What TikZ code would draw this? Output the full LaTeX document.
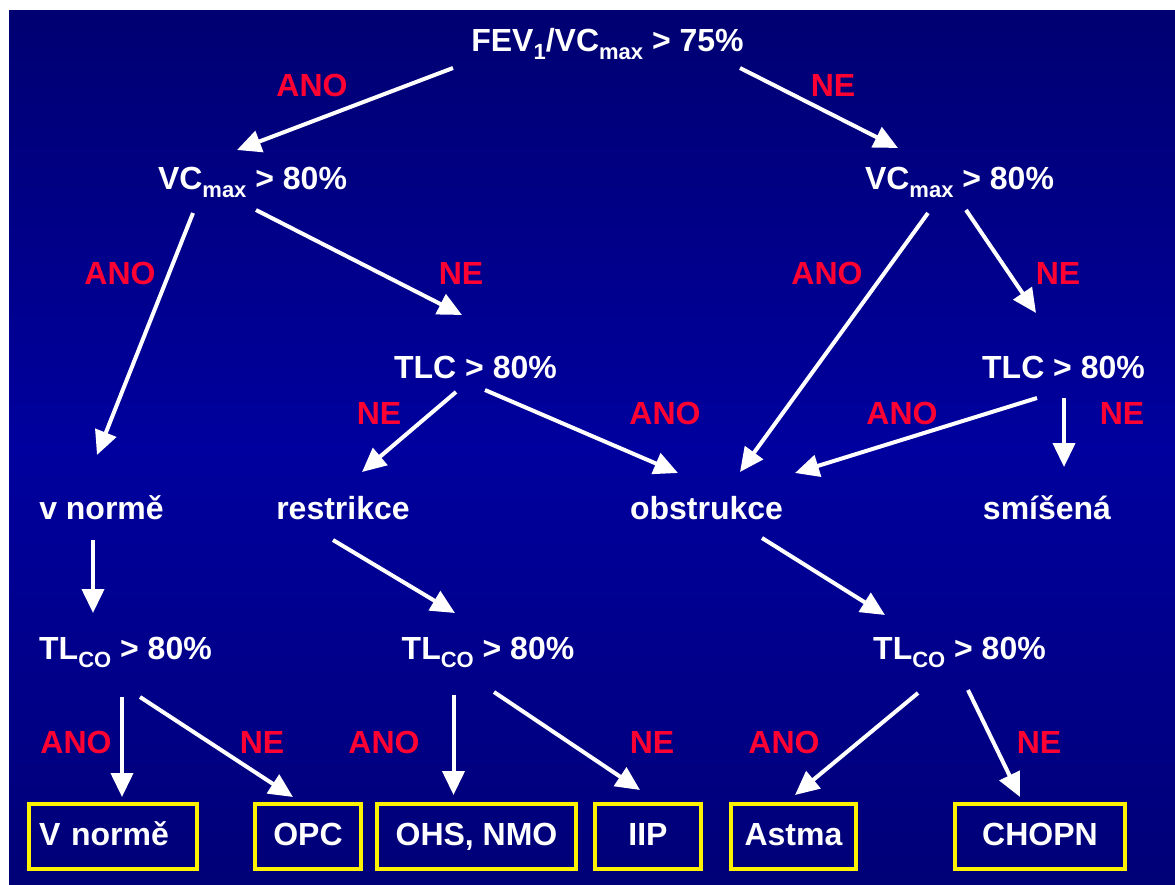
\documentclass[tikz,border=0pt]{standalone}
\usepackage{fontspec}
\setmainfont{Liberation Sans}
\usetikzlibrary{arrows.meta}

\definecolor{bgtop}{RGB}{0,0,68}
\definecolor{bgmid}{RGB}{0,0,158}
\definecolor{bgbot}{RGB}{0,0,78}
\definecolor{ansred}{RGB}{255,0,51}

\pgfdeclareverticalshading{bgshade}{100bp}{color(0bp)=(bgbot); color(12bp)=(bgbot!75!bgmid);
  color(50bp)=(bgmid); color(88bp)=(bgtop!75!bgmid); color(100bp)=(bgtop)}

\newcommand{\lowsub}[1]{\raisebox{-8pt}{\fontsize{22}{22}\selectfont #1}}
\newcommand{\bigfont}{\bfseries\fontsize{32}{36}\selectfont}

\tikzset{
  txt/.style={text=white, font=\bigfont, anchor=base, inner sep=0pt},
  lbl/.style={text=ansred, font=\bigfont, anchor=base, inner sep=0pt},
  arr/.style={draw=white, line width=4pt, -{Triangle[length=24pt,width=22pt]}},
  res/.style={draw=yellow, line width=4pt, minimum height=65pt, text=white,
    font=\bigfont, text height=23pt, text depth=6pt, inner sep=0pt},
}

\begin{document}
\begin{tikzpicture}[x=1pt, y=-1pt]
        \useasboundingbox (0,0) rectangle (1175,885);
        \fill[white] (0,0) rectangle (1175,885);
        \shade[shading=bgshade] (9,11) rectangle (1175,885);

        % place nodes
        \node[txt] at (607.5,52)  (root)  {FEV\lowsub{1}/VC\lowsub{max} > 75\%};
        \node[txt] at (252.5,190) (vcl)   {VC\lowsub{max} > 80\%};
        \node[txt] at (959.5,190) (vcr)   {VC\lowsub{max} > 80\%};
        \node[txt] at (475.5,378) (tlcm)  {TLC > 80\%};
        \node[txt] at (1063.5,378) (tlcr) {TLC > 80\%};

        \node[txt] at (101.5,519) (norm)  {v normě};
        \node[txt] at (343,519)   (restr) {restrikce};
        \node[txt] at (706.5,519) (obstr) {obstrukce};
        \node[txt] at (1047,519)  (smis)  {smíšená};

        \node[txt] at (125.5,659) (tlcol) {TL\lowsub{CO} > 80\%};
        \node[txt] at (488,659)   (tlcom) {TL\lowsub{CO} > 80\%};
        \node[txt] at (959.5,659) (tlcor) {TL\lowsub{CO} > 80\%};

        \node[res, minimum width=168pt, text width=148pt, align=left] at (113,836.5) (bnorm) {V normě};
        \node[res, minimum width=106pt] at (308,836.5)    (bopc)   {OPC};
        \node[res, minimum width=199pt] at (476.5,836.5)  (bohs)   {OHS, NMO};
        \node[res, minimum width=106pt] at (648,836.5)    (biip)   {IIP};
        \node[res, minimum width=125pt] at (793.5,836.5)  (bast)   {Astma};
        \node[res, minimum width=170pt] at (1040,836.5)   (bchopn) {CHOPN};

        % answers
        \node[lbl] at (312,97)   (l1)  {ANO};
        \node[lbl] at (833,97)   (l2)  {NE};
        \node[lbl] at (120,285)  (l3)  {ANO};
        \node[lbl] at (461,285)  (l4)  {NE};
        \node[lbl] at (827,285)  (l5)  {ANO};
        \node[lbl] at (1058,285) (l6)  {NE};
        \node[lbl] at (379,424)  (l7)  {NE};
        \node[lbl] at (665,424)  (l8)  {ANO};
        \node[lbl] at (902,424)  (l9)  {ANO};
        \node[lbl] at (1122,424) (l10) {NE};
        \node[lbl] at (76,753)   (l11) {ANO};
        \node[lbl] at (262,753)  (l12) {NE};
        \node[lbl] at (384,753)  (l13) {ANO};
        \node[lbl] at (652,753)  (l14) {NE};
        \node[lbl] at (784,753)  (l15) {ANO};
        \node[lbl] at (1039,753) (l16) {NE};

        % draw edges
        \draw[arr] ([shift={(-154.5,16)}]root.base) -- ([shift={(-15.5,-40)}]vcl.base);
        \draw[arr] ([shift={(132.5,16)}]root.base) -- ([shift={(-61.5,-42)}]vcr.base);
        \draw[arr] ([shift={(-59.5,23)}]vcl.base) -- ([shift={(-4.5,-64)}]norm.base);
        \draw[arr] ([shift={(3.5,20)}]vcl.base) -- ([shift={(-13.5,-63)}]tlcm.base);
        \draw[arr] ([shift={(-31.5,23)}]vcr.base) -- ([shift={(33.5,-47)}]obstr.base);
        \draw[arr] ([shift={(6.5,20)}]vcr.base) -- ([shift={(-27.5,-65)}]tlcr.base);
        \draw[arr] ([shift={(-19.5,14)}]tlcm.base) -- ([shift={(19,-47)}]restr.base);
        \draw[arr] ([shift={(9.5,12)}]tlcm.base) -- ([shift={(-28.5,-46)}]obstr.base);
        \draw[arr] ([shift={(-26.5,20)}]tlcr.base) -- ([shift={(88.5,-46)}]obstr.base);
        \draw[arr] ([shift={(0.5,20)}]tlcr.base) -- ([shift={(17,-52)}]smis.base);
        \draw[arr] ([shift={(-8.5,21)}]norm.base) -- ([shift={(-32.5,-46)}]tlcol.base);
        \draw[arr] ([shift={(-10,21)}]restr.base) -- ([shift={(-33,-46)}]tlcom.base);
        \draw[arr] ([shift={(55.5,19)}]obstr.base) -- ([shift={(-74.5,-44)}]tlcor.base);
        \draw[arr] ([shift={(-3.5,38)}]tlcol.base) -- ([shift={(9,-5)}]bnorm.north);
        \draw[arr] ([shift={(14.5,38)}]tlcol.base) -- ([shift={(-15,-5)}]bopc.north);
        \draw[arr] ([shift={(-34.5,36)}]tlcom.base) -- ([shift={(-23,-7)}]bohs.north);
        \draw[arr] ([shift={(6,33)}]tlcom.base) -- ([shift={(-8,-12)}]biip.north);
        \draw[arr] ([shift={(-41.5,34)}]tlcor.base) -- ([shift={(1.5,-7)}]bast.north);
        \draw[arr] ([shift={(8.5,31)}]tlcor.base) -- ([shift={(-20,-5)}]bchopn.north);
\end{tikzpicture}
\end{document}
